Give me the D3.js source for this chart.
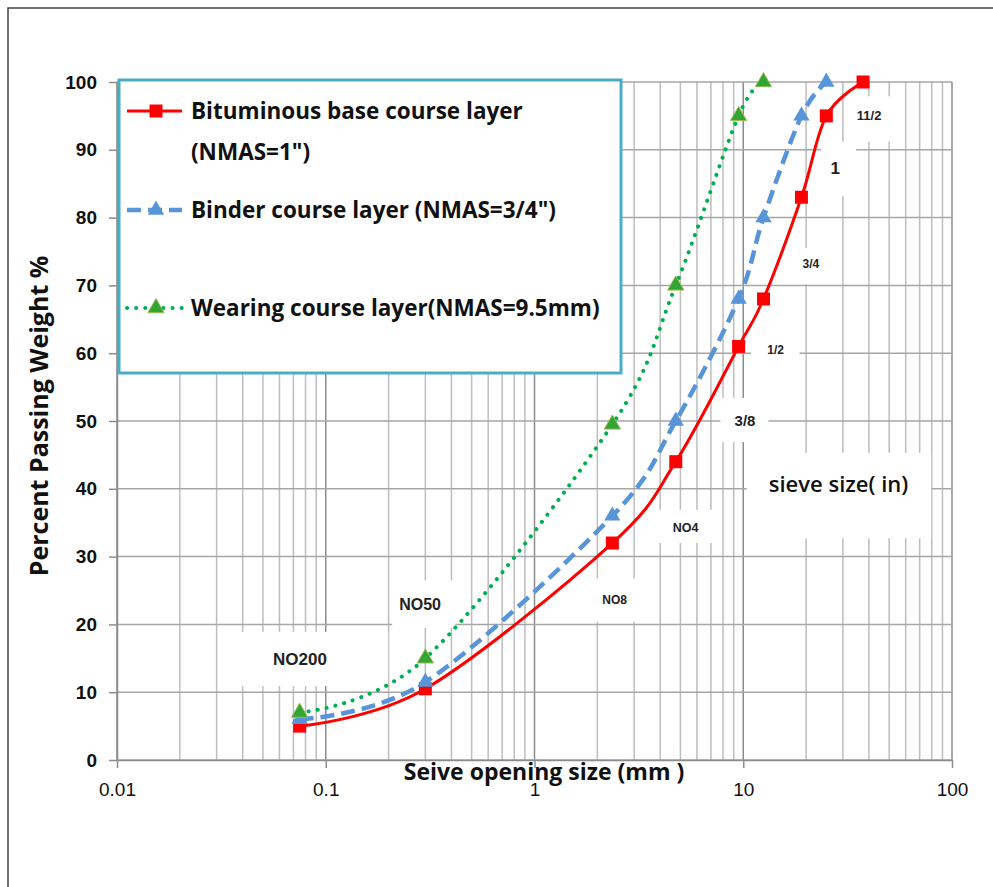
<!DOCTYPE html>
<html>
<head>
    <meta charset="utf-8" />
    <title>Sieve analysis</title>
    <style>
        body { margin: 0; background: #fff; }
        svg { display: block; }
    </style>
</head>
<body>
    <script src="https://cdn.jsdelivr.net/npm/d3@7"></script>
    <script>
    // sieve opening sizes (mm) and the three gradations
    var sizesMm = [0.075, 0.3, 2.36, 4.75, 9.5, 12.5, 19, 25, 37.5];
    var sieveNames = ["NO200", "NO50", "NO8", "NO4", "3/8", "1/2", "3/4", "1", "11/2"];
    var baseCourse = [5, 10.5, 32, 44, 61, 68, 83, 95, 100];
    var binderCourse = [6, 11.5, 36, 50, 68, 80, 95, 100];
    var wearingCourse = [7, 15, 49.5, 70, 95, 100];
    var seriesNames = ["Bituminous base course layer", "Binder course layer (NMAS=3/4\")", "Wearing course layer(NMAS=9.5mm)"];
    var xTicks = [0.01, 0.1, 1, 10, 100];
    var yTicks = d3.range(0, 101, 10);

    var width = 993,
        height = 887,
        plotLeft = 117, plotRight = 952, plotTop = 82, plotBottom = 760;

    var x = d3.scaleLog().domain([0.01, 100]).range([plotLeft, plotRight]),
        y = d3.scaleLinear().domain([0, 100]).range([plotBottom, plotTop]);

    var svg = d3.select("body").append("svg")
        .attr("width", width)
        .attr("height", height);

    // outer frame
    svg.append("rect")
        .attr("x", 8).attr("y", 8)
        .attr("width", 1100).attr("height", 1100)
        .attr("fill", "none").attr("stroke", "#444").attr("stroke-width", 1.5);

    // grid
    var minor = [];
    for (var e = -2; e < 2; e++) {
        for (var m = 1; m < 10; m++) minor.push(m * Math.pow(10, e));
    }
    minor.push(100);
    var grid = svg.append("g");
    grid.selectAll("line.v").data(minor).enter().append("line")
        .attr("x1", function(d){ return x(d); })
        .attr("x2", function(d){ return x(d); })
        .attr("y1", plotTop).attr("y2", plotBottom)
        .attr("stroke", function(d){ return Math.abs(Math.log10(d) % 1) < 1e-9 ? "#8c8c8c" : "#bdbdbd"; })
        .attr("stroke-width", 1.5);
    grid.selectAll("line.h").data(yTicks).enter().append("line")
        .attr("x1", plotLeft).attr("x2", plotRight)
        .attr("y1", function(d){ return y(d); })
        .attr("y2", function(d){ return y(d); })
        .attr("stroke", "#a6a6a6").attr("stroke-width", 1.5);

    // white text boxes of the sieve notes (data units: x0,x1 mm ; y0,y1 % ; text at tx,ty)
    var notes = [
        {x0: 0.038, x1: 0.199, y0: 10.9, y1: 18.9, tx: 0.0752, ty: 14.9, fs: 17},
        {x0: 0.208, x1: 0.417, y0: 19.5, y1: 26.5, tx: 0.283, ty: 23, fs: 16},
        {x0: 1.88, x1: 3.17, y0: 20.4, y1: 26.8, tx: 2.42, ty: 23.6, fs: 12},
        {x0: 3.77, x1: 7.77, y0: 32, y1: 36.9, tx: 5.3, ty: 34.2, fs: 12.5},
        {x0: 7.77, x1: 13.2, y0: 46.9, y1: 53.4, tx: 10.2, ty: 50.1, fs: 15},
        {x0: 10.9, x1: 18.6, y0: 57.2, y1: 62.7, tx: 14.3, ty: 60.5, fs: 12},
        {x0: 17.1, x1: 26.3, y0: 70.2, y1: 75.5, tx: 21.1, ty: 73.2, fs: 12},
        {x0: 23.6, x1: 34.7, y0: 83.2, y1: 91.2, tx: 27.6, ty: 87.3, fs: 17},
        {x0: 32.3, x1: 53.4, y0: 91.2, y1: 97.9, tx: 40.1, ty: 95, fs: 13}
    ];
    var sieveBox = {x0: 10.4, x1: 79.5, y0: 32.7, y1: 45.3, tx: 28.6, ty: 40.6};

    var boxes = svg.append("g");
    notes.concat([sieveBox]).forEach(function(n){
        boxes.append("rect")
            .attr("x", x(n.x0)).attr("y", y(n.y1))
            .attr("width", x(n.x1) - x(n.x0))
            .attr("height", y(n.y0) - y(n.y1))
            .attr("fill", "#fff");
    });
    notes.forEach(function(n, i){
        boxes.append("text")
            .attr("x", x(n.tx)).attr("y", y(n.ty))
            .attr("dy", "0.35em")
            .attr("text-anchor", "middle")
            .attr("font-family", "'Liberation Sans', Arial, sans-serif")
            .attr("font-weight", "bold")
            .attr("font-size", n.fs)
            .attr("fill", "#222")
            .text(sieveNames[i]);
    });
    boxes.append("text")
        .attr("x", x(sieveBox.tx)).attr("y", y(sieveBox.ty))
        .attr("dy", "0.35em")
        .attr("text-anchor", "middle")
        .attr("font-family", "'Open Sans', sans-serif")
        .attr("font-weight", 600)
        .attr("font-size", 22)
        .attr("fill", "#111")
        .text("sieve size( in)");

    // axes
    var xAxis = d3.axisBottom(x).tickValues(xTicks)
        .tickFormat(function(d){ return String(d); })
        .tickSize(8).tickPadding(15).tickSizeOuter(0);
    var yAxis = d3.axisLeft(y).tickValues(yTicks)
        .tickSize(8).tickPadding(12).tickSizeOuter(0);

    var gx = svg.append("g")
        .attr("transform", "translate(0," + plotBottom + ")")
        .call(xAxis);
    gx.select(".domain").attr("stroke", "#8c8c8c").attr("stroke-width", 1.5);
    gx.selectAll(".tick line").attr("stroke", "#8c8c8c").attr("stroke-width", 1.5);
    gx.selectAll(".tick text")
        .attr("font-family", "'Liberation Sans', Arial, sans-serif")
        .attr("font-size", 19).attr("fill", "#111");

    var gy = svg.append("g")
        .attr("transform", "translate(" + plotLeft + ",0)")
        .call(yAxis);
    gy.select(".domain").attr("stroke", "#8c8c8c").attr("stroke-width", 1.5);
    gy.selectAll(".tick line").attr("stroke", "#8c8c8c").attr("stroke-width", 1.5);
    gy.selectAll(".tick text")
        .attr("font-family", "'Liberation Sans', Arial, sans-serif")
        .attr("font-weight", "bold")
        .attr("font-size", 19).attr("fill", "#111");

    // axis titles
    svg.append("text")
        .attr("x", 544).attr("y", 780)
        .attr("text-anchor", "middle")
        .attr("font-family", "'Open Sans', sans-serif")
        .attr("font-weight", "bold")
        .attr("font-size", 23)
        .attr("fill", "#111")
        .text("Seive opening size (mm )");

    svg.append("text")
        .attr("transform", "translate(48,416) rotate(-90)")
        .attr("text-anchor", "middle")
        .attr("font-family", "'Open Sans', sans-serif")
        .attr("font-weight", "bold")
        .attr("font-size", 25)
        .attr("fill", "#111")
        .text("Percent Passing Weight %");

    // series
    var styles = [
        {color: "#ff0000", width: 3, dash: null, cap: "butt", symbol: d3.symbolSquare, size: 169, fill: "#ff0000", stroke: "none"},
        {color: "#5894d8", width: 4.5, dash: "14,7", cap: "butt", symbol: d3.symbolTriangle, size: 115, fill: "#5894d8", stroke: "none"},
        {color: "#00b050", width: 4, dash: "0.1,9", cap: "round", symbol: d3.symbolTriangle, size: 115, fill: "#33a532", stroke: "#9bbb59"}
    ];
    var seriesData = [baseCourse, binderCourse, wearingCourse].map(function(vals){
        return vals.map(function(v, i){ return {x: sizesMm[i], y: v}; });
    });

    var line = d3.line()
        .curve(d3.curveCardinal.tension(0))
        .x(function(d){ return x(d.x); })
        .y(function(d){ return y(d.y); });

    seriesData.forEach(function(pts, i){
        var s = styles[i];
        var g = svg.append("g");
        g.append("path")
            .datum(pts)
            .attr("d", line)
            .attr("fill", "none")
            .attr("stroke", s.color)
            .attr("stroke-width", s.width)
            .attr("stroke-dasharray", s.dash)
            .attr("stroke-linecap", s.cap);
        g.selectAll("path.mark").data(pts).enter().append("path")
            .attr("class", "mark")
            .attr("transform", function(d){ return "translate(" + x(d.x) + "," + y(d.y) + ")"; })
            .attr("d", d3.symbol().type(s.symbol).size(s.size))
            .attr("fill", s.fill)
            .attr("stroke", s.stroke);
    });

    // legend
    var lg = svg.append("g");
    lg.append("rect")
        .attr("x", 119).attr("y", 80)
        .attr("width", 502).attr("height", 293)
        .attr("fill", "#fff")
        .attr("stroke", "#4bacc6").attr("stroke-width", 3);

    var legendRows = [{ly: 111, ty: 119}, {ly: 210, ty: 218}, {ly: 308, ty: 316}];
    legendRows.forEach(function(r, i){
        var s = styles[i];
        lg.append("line")
            .attr("x1", 127).attr("x2", 182)
            .attr("y1", r.ly).attr("y2", r.ly)
            .attr("stroke", s.color)
            .attr("stroke-width", s.width)
            .attr("stroke-dasharray", s.dash)
            .attr("stroke-linecap", s.cap);
        lg.append("path")
            .attr("transform", "translate(156," + r.ly + ")")
            .attr("d", d3.symbol().type(s.symbol).size(s.size))
            .attr("fill", s.fill)
            .attr("stroke", s.stroke);
        lg.append("text")
            .attr("x", 191).attr("y", r.ty)
            .attr("font-family", "'Open Sans', sans-serif")
            .attr("font-weight", "bold")
            .attr("font-size", 22.5)
            .attr("fill", "#111")
            .text(seriesNames[i]);
    });
    lg.append("text")
        .attr("x", 191).attr("y", 160)
        .attr("font-family", "'Open Sans', sans-serif")
        .attr("font-weight", "bold")
        .attr("font-size", 22.5)
        .attr("fill", "#111")
        .text("(NMAS=1\")");
    </script>
</body>
</html>
